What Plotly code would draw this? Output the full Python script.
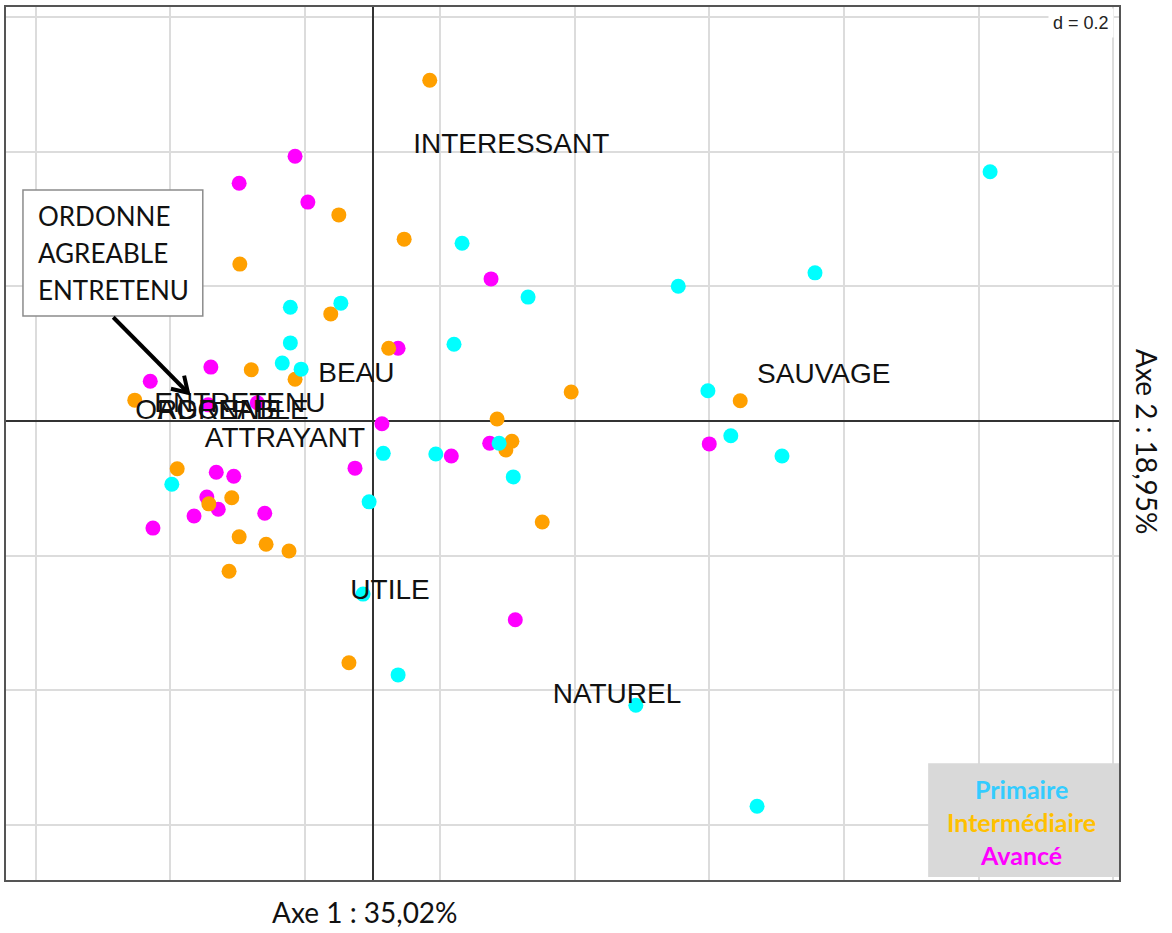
import math
import plotly.graph_objects as go

# --- Individuals (factor scores on axes 1 and 2), by group ---
primaire_x = [0.917, 0.657, 0.454, 0.231, 0.133, 0.121, -0.122, -0.047, -0.122, -0.134,
              -0.106, 0.498, 0.532, 0.608, 0.188, 0.016, 0.094, 0.209, -0.005, -0.298,
              -0.014, 0.038, 0.391, 0.571]
primaire_y = [0.370, 0.220, 0.200, 0.184, 0.264, 0.114, 0.169, 0.175, 0.116, 0.086,
              0.077, 0.045, -0.022, -0.052, -0.033, -0.048, -0.049, -0.083, -0.120, -0.094,
              -0.257, -0.377, -0.422, -0.572]

inter_x = [0.085, -0.050, 0.047, -0.197, -0.062, 0.024, -0.180, -0.115, -0.353, 0.295,
           0.546, 0.185, 0.207, 0.198, -0.290, -0.209, -0.243, 0.252, -0.198, -0.158,
           -0.124, -0.213, -0.035]
inter_y = [0.506, 0.306, 0.270, 0.233, 0.159, 0.108, 0.076, 0.062, 0.031, 0.043,
           0.030, 0.003, -0.030, -0.043, -0.071, -0.114, -0.123, -0.150, -0.172, -0.183,
           -0.193, -0.223, -0.359]

avance_x = [-0.115, -0.198, -0.096, 0.176, 0.038, -0.240, -0.330, -0.244, -0.171, 0.014,
            0.174, 0.117, -0.026, -0.232, -0.206, -0.246, -0.229, -0.265, -0.160, -0.326,
            0.500, 0.212]
avance_y = [0.393, 0.353, 0.325, 0.211, 0.108, 0.080, 0.059, 0.024, 0.027, -0.004,
            -0.033, -0.052, -0.070, -0.076, -0.082, -0.113, -0.131, -0.141, -0.137, -0.159,
            -0.034, -0.295]

# --- Variables (adjectives) ---
var_labels = ["INTERESSANT", "BEAU", "SAUVAGE", "UTILE", "NATUREL", "ATTRAYANT",
              "ORDONNE", "AGREABLE", "ENTRETENU"]
var_x = [0.206, -0.024, 0.670, 0.026, 0.363, -0.130, -0.246, -0.207, -0.197]
var_y = [0.408, 0.068, 0.067, -0.254, -0.408, -0.028, 0.013, 0.013, 0.024]

group_names = ["Primaire", "Intermédiaire", "Avancé"]
point_colors = ["#00FFFF", "#FFA000", "#FF00FF"]
legend_colors = ["#33CCFF", "#FFC000", "#FF00FF"]

axis1_title = "Axe 1 : 35,02%"
axis2_title = "Axe 2 : 18,95%"
grid_step_label = "d = 0.2"
callout_lines = ["ORDONNE", "AGREABLE", "ENTRETENU"]

x_grid = [-0.5, -0.3, -0.1, 0.1, 0.3, 0.5, 0.7, 0.9, 1.1]
y_grid = [-0.6, -0.4, -0.2, 0.0, 0.2, 0.4, 0.6]

fig = go.Figure()

# draw order: Avancé, Intermédiaire, Primaire on top
for gx, gy, name, col in [
    (avance_x, avance_y, group_names[2], point_colors[2]),
    (inter_x, inter_y, group_names[1], point_colors[1]),
    (primaire_x, primaire_y, group_names[0], point_colors[0]),
]:
    fig.add_trace(go.Scatter(
        x=gx, y=gy, mode="markers", name=name,
        marker=dict(size=15, color=col, line=dict(width=0)),
        hoverinfo="skip", showlegend=False,
    ))

fig.add_trace(go.Scatter(
    x=var_x, y=var_y, mode="text", text=var_labels,
    textposition="middle center",
    textfont=dict(family="Liberation Sans, Arial, sans-serif", size=28, color="#111111"),
    hoverinfo="skip", showlegend=False,
))

# callout arrow (shaft + open chevron head), in data units (equal aspect)
tail = (-0.385, 0.154)
head = (-0.274, 0.042)
dx, dy = head[0] - tail[0], head[1] - tail[1]
norm = math.hypot(dx, dy)
bx, by = -dx / norm, -dy / norm
arm_len, arm_ang = 0.026, math.radians(32)
arms = []
for s in (1, -1):
    ca, sa = math.cos(s * arm_ang), math.sin(s * arm_ang)
    arms.append((head[0] + arm_len * (bx * ca - by * sa),
                 head[1] + arm_len * (bx * sa + by * ca)))

shapes = [
    # callout box
    dict(type="rect", xref="x", yref="y", x0=-0.519, x1=-0.252, y0=0.156, y1=0.343,
         line=dict(color="#8c8c8c", width=1.5), fillcolor="white", layer="above"),
    # arrow shaft
    dict(type="line", xref="x", yref="y", x0=tail[0], y0=tail[1], x1=head[0], y1=head[1],
         line=dict(color="#000000", width=4), layer="above"),
    # arrow head
    dict(type="path", xref="x", yref="y",
         path="M %f,%f L %f,%f L %f,%f" % (arms[0][0], arms[0][1], head[0], head[1],
                                          arms[1][0], arms[1][1]),
         line=dict(color="#000000", width=4), layer="above"),
    # group key background
    dict(type="rect", xref="x", yref="y", x0=0.825, x1=1.1084, y0=-0.677, y1=-0.508,
         line=dict(width=0), fillcolor="#D9D9D9", layer="above"),
]

annotations = []
for i, line in enumerate(callout_lines):
    annotations.append(dict(
        x=-0.500, y=0.304 - i * 0.0549, xref="x", yref="y", text=line,
        showarrow=False, xanchor="left", yanchor="middle",
        font=dict(family="Lato, sans-serif", size=26, color="#111111"),
    ))

for i, (name, col) in enumerate(zip(group_names, legend_colors)):
    annotations.append(dict(
        x=0.963, y=-0.546 - i * 0.049, xref="x", yref="y", text="<b>%s</b>" % name,
        showarrow=False, xanchor="center", yanchor="middle",
        font=dict(family="Lato, sans-serif", size=25, color=col),
    ))

annotations.append(dict(
    x=0.3226, y=-0.0367, xref="paper", yref="paper", text=axis1_title,
    showarrow=False, xanchor="center", yanchor="middle",
    font=dict(family="Lato, sans-serif", size=28, color="#111111"),
))
annotations.append(dict(
    x=1.0252, y=0.5017, xref="paper", yref="paper", text=axis2_title,
    showarrow=False, xanchor="center", yanchor="middle", textangle=90,
    font=dict(family="Lato, sans-serif", size=28, color="#111111"),
))
annotations.append(dict(
    x=0.9955, y=0.9817, xref="paper", yref="paper", text=grid_step_label,
    showarrow=False, xanchor="right", yanchor="middle", bgcolor="white", borderpad=4,
    font=dict(family="Liberation Sans, Arial, sans-serif", size=18, color="#222222"),
))

fig.update_layout(
    width=1172, height=933,
    margin=dict(l=6, r=53, t=7, b=53),
    paper_bgcolor="white", plot_bgcolor="white",
    shapes=shapes, annotations=annotations,
    showlegend=False,
)
fig.update_xaxes(
    range=[-0.5442, 1.1084], tickvals=x_grid, showticklabels=False, ticks="",
    showgrid=True, gridcolor="#dcdcdc", gridwidth=1.5,
    zeroline=True, zerolinecolor="#333333", zerolinewidth=1.5,
    showline=True, mirror=True, linecolor="#555555", linewidth=2,
)
fig.update_yaxes(
    range=[-0.6815, 0.6147], tickvals=y_grid, showticklabels=False, ticks="",
    showgrid=True, gridcolor="#dcdcdc", gridwidth=1.5,
    zeroline=True, zerolinecolor="#333333", zerolinewidth=1.5,
    showline=True, mirror=True, linecolor="#555555", linewidth=2,
)

fig.write_html("out.html")
